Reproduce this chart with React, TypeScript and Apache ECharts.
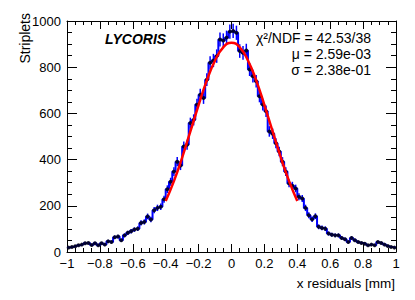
import React, { useEffect, useRef } from "react";
import * as echarts from "echarts";

// Histogram: 100 bins from -1 to 1 (width 0.02)
const binLow = -1;
const binWidth = 0.02;
const counts = [
  19, 22, 25, 29, 32, 38, 39, 30, 38, 29,
  38, 32, 46, 43, 64, 67, 51, 72, 83, 90,
  97, 101, 126, 130, 154, 141, 181, 191, 196, 228,
  272, 304, 348, 391, 374, 457, 464, 558, 572, 638,
  681, 667, 746, 819, 829, 848, 920, 916, 928, 954,
  957, 949, 870, 862, 872, 790, 761, 739, 674, 638,
  609, 522, 512, 471, 435, 391, 348, 297, 287, 275,
  239, 232, 191, 159, 142, 155, 109, 104, 101, 80,
  75, 72, 72, 61, 55, 43, 61, 51, 43, 39,
  36, 29, 32, 29, 43, 39, 32, 26, 22, 19,
];

// Fit curve
const fitX = [-0.4, -0.35, -0.3, -0.25, -0.2, -0.15, -0.1, -0.05, 0, 0.05, 0.1, 0.15, 0.2, 0.25, 0.3, 0.35, 0.4];
const fitY = [221, 307, 409, 522, 636, 743, 829, 886, 906, 886, 829, 743, 636, 522, 409, 307, 221];

const statLines = ["\u03c7\u00b2/NDF = 42.53/38", "\u03bc = 2.59e-03", "\u03c3 = 2.38e-01"];
const xTitle = "x residuals [mm]";
const yTitle = "Striplets";
const label = "LYCORIS";

const FONT = "'Liberation Sans', Arial, Helvetica, sans-serif";

export default function App() {
  const ref = useRef<HTMLDivElement>(null);
  useEffect(() => {
    if (!ref.current) return;
    const chart = echarts.init(ref.current, null, { renderer: "svg" });
    const centers = counts.map((_, i) => binLow + binWidth * (i + 0.5));
    const pts = counts.map((c, i) => [centers[i], c]);
    const stepPts = [[binLow, counts[0]], ...pts, [binLow + binWidth * counts.length, counts[counts.length - 1]]];
    const fmtX = (v: number) => String(+v.toFixed(1)).replace("-", "\u2212");
    const fmtY = (v: number) => String(Math.round(v));
    const axisCommon = {
      axisLine: { onZero: false, lineStyle: { color: "#000", width: 1 } },
      splitLine: { show: false },
    };
    chart.setOption({
      animation: false,
      grid: { left: 67, right: 19, top: 21, bottom: 48 },
      xAxis: [
        {
          type: "value", min: -1, max: 1, interval: 0.2, position: "bottom",
          ...axisCommon,
          axisTick: { inside: true, length: 8, lineStyle: { color: "#000" } },
          minorTick: { show: true, splitNumber: 4, length: 4, lineStyle: { color: "#000" } },
          axisLabel: { formatter: fmtX, fontFamily: FONT, fontSize: 13, color: "#000", margin: 5 },
        },
        {
          type: "value", min: -1, max: 1, interval: 0.2, position: "top",
          ...axisCommon,
          axisTick: { inside: true, length: 8, lineStyle: { color: "#000" } },
          minorTick: { show: true, splitNumber: 4, length: 4, lineStyle: { color: "#000" } },
          axisLabel: { show: false },
        },
      ],
      yAxis: [
        {
          type: "value", min: 0, max: 1000, interval: 200, position: "left",
          ...axisCommon,
          axisTick: { inside: true, length: 10, lineStyle: { color: "#000" } },
          minorTick: { show: true, splitNumber: 4, length: 5, lineStyle: { color: "#000" } },
          axisLabel: { formatter: fmtY, fontFamily: FONT, fontSize: 13, color: "#000", margin: 6 },
        },
        {
          type: "value", min: 0, max: 1000, interval: 200, position: "right",
          ...axisCommon,
          axisTick: { inside: true, length: 10, lineStyle: { color: "#000" } },
          minorTick: { show: true, splitNumber: 4, length: 5, lineStyle: { color: "#000" } },
          axisLabel: { show: false },
        },
      ],
      graphic: [
        {
          type: "text", x: 395, y: 283,
          style: { text: xTitle, font: `13.5px ${FONT}`, fill: "#000", align: "right", verticalAlign: "middle" },
        },
        {
          type: "text", x: 25, y: 13, rotation: Math.PI / 2,
          style: { text: yTitle, font: `14px ${FONT}`, fill: "#000", align: "right", verticalAlign: "middle" },
        },
        {
          type: "text", x: 105, y: 39,
          style: { text: label, font: `italic bold 14px ${FONT}`, fill: "#000", align: "left", verticalAlign: "middle" },
        },
        ...statLines.map((t, k) => ({
          type: "text", x: 371, y: 38 + k * 16,
          style: { text: t, font: `14px ${FONT}`, fill: "#000", align: "right", verticalAlign: "middle" },
        })),
      ],
      series: [
        {
          type: "line", data: stepPts, step: "middle", symbol: "none",
          lineStyle: { color: "#0000ff", width: 2 }, z: 2,
        },
        {
          type: "custom", data: pts, z: 3,
          renderItem: (params: any, api: any) => {
            const x = api.value(0);
            const y = api.value(1);
            const e = Math.sqrt(y);
            const p1 = api.coord([x, y - e]);
            const p2 = api.coord([x, y + e]);
            return {
              type: "line",
              shape: { x1: p1[0], y1: p1[1], x2: p2[0], y2: p2[1] },
              style: { stroke: "#0000ff", lineWidth: 1.5 },
            };
          },
        },
        {
          type: "scatter", data: pts, symbol: "circle", symbolSize: 4,
          itemStyle: { color: "#000" }, z: 4,
        },
        {
          type: "line", data: fitX.map((x, i) => [x, fitY[i]]), smooth: true, symbol: "none",
          lineStyle: { color: "#ff0000", width: 2.5 }, z: 5,
        },
      ],
    });
    return () => chart.dispose();
  }, []);
  return <div ref={ref} style={{ position: "fixed", left: 0, top: 0, width: 415, height: 300, background: "#fff" }} />;
}
